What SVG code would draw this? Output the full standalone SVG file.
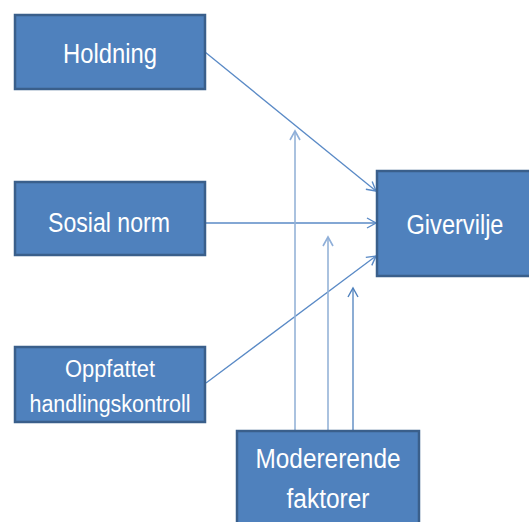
<svg xmlns="http://www.w3.org/2000/svg" width="529" height="522" viewBox="0 0 529 522">
<defs>
<style>
.box{fill:#4F81BD;stroke:#3A5F8B;stroke-width:2.5}
.t{fill:#FFFFFF;font-family:"Liberation Sans",Arial,sans-serif;text-anchor:middle}
.c{fill:none;stroke:#5A8AC6;stroke-width:1.3}
.lc{fill:none;stroke:#95B3D7;stroke-width:1.6}
.dc{fill:none;stroke:#4F81BD;stroke-width:1.3}
</style>
<marker id="ah" markerWidth="12" markerHeight="12" refX="10" refY="6" orient="auto" markerUnits="userSpaceOnUse">
<path d="M1,1 L10,6 L1,11" fill="none" stroke="#5A8AC6" stroke-width="1.4"/>
</marker>
<marker id="ahl" markerWidth="12" markerHeight="12" refX="10" refY="6" orient="auto" markerUnits="userSpaceOnUse">
<path d="M1,1 L10,6 L1,11" fill="none" stroke="#8FAFD9" stroke-width="1.6"/>
</marker>
<marker id="ahd" markerWidth="12" markerHeight="12" refX="10" refY="6" orient="auto" markerUnits="userSpaceOnUse">
<path d="M1,1 L10,6 L1,11" fill="none" stroke="#4F81BD" stroke-width="1.4"/>
</marker>
</defs>
<g id="connectors">
<line class="c" x1="205" y1="52" x2="376" y2="191" marker-end="url(#ah)"/>
<line class="c" x1="205" y1="223" x2="376" y2="223" marker-end="url(#ah)"/>
<line class="c" x1="206" y1="383" x2="376" y2="256" marker-end="url(#ah)"/>
<line class="lc" x1="295" y1="431" x2="295" y2="131" marker-end="url(#ahl)"/>
<line class="lc" x1="328" y1="431" x2="328" y2="237" marker-end="url(#ahl)"/>
<line class="dc" x1="353" y1="442" x2="353" y2="288" marker-end="url(#ahd)"/>
</g>
<g id="holdning">
<rect class="box" x="15" y="15" width="190" height="74"/>
<text class="t" x="110" y="63" font-size="27" textLength="94" lengthAdjust="spacingAndGlyphs">Holdning</text>
</g>
<g id="sosial-norm">
<rect class="box" x="15" y="182" width="190" height="73"/>
<text class="t" x="109" y="232" font-size="27" textLength="122" lengthAdjust="spacingAndGlyphs">Sosial norm</text>
</g>
<g id="oppfattet">
<rect class="box" x="15" y="347" width="190" height="75"/>
<text class="t" x="110" y="377" font-size="23" textLength="90" lengthAdjust="spacingAndGlyphs">Oppfattet</text>
<text class="t" x="110" y="412" font-size="23" textLength="161" lengthAdjust="spacingAndGlyphs">handlingskontroll</text>
</g>
<g id="givervilje">
<rect class="box" x="377" y="171" width="160" height="105"/>
<text class="t" x="455" y="234" font-size="27" textLength="97" lengthAdjust="spacingAndGlyphs">Givervilje</text>
</g>
<g id="modererende">
<rect class="box" x="237" y="431" width="182" height="100"/>
<text class="t" x="328" y="468" font-size="27" textLength="145" lengthAdjust="spacingAndGlyphs">Modererende</text>
<text class="t" x="328" y="508" font-size="27" textLength="83" lengthAdjust="spacingAndGlyphs">faktorer</text>
</g>
</svg>
